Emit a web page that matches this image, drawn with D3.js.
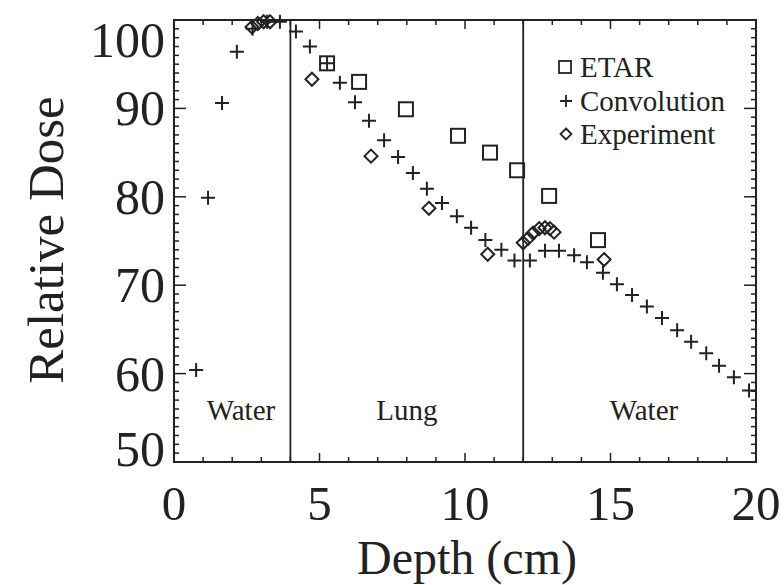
<!DOCTYPE html>
<html>
<head>
<meta charset="utf-8">
<script src="https://cdn.jsdelivr.net/npm/d3@7"></script>
<style>
  body { margin: 0; background: #fff; }
  text { font-family: "Liberation Serif", "Times New Roman", serif; fill: #222; }
</style>
</head>
<body>
<svg id="chart" width="784" height="585"></svg>
<script>
// 数据：从图上读出来的点（深度 cm，相对剂量）
var etarDepth = [5.26, 6.36, 7.97, 9.76, 10.86, 11.79, 12.89, 14.57];
var etarDose  = [95.1, 93.0, 89.9, 86.9, 85.0, 83.0, 80.1, 75.1];

var convDepth = [0.76, 1.17, 1.65, 2.16, 2.7, 3.2, 3.64, 4.19, 4.67, 5.26, 5.70, 6.22, 6.70, 7.22, 7.70, 8.21, 8.69, 9.21, 9.72, 10.21, 10.70, 11.25, 11.70, 12.23, 12.75, 13.23, 13.75, 14.19, 14.74, 15.22, 15.74, 16.25, 16.77, 17.29, 17.77, 18.29, 18.73, 19.24, 19.76];
var convDose  = [60.4, 79.9, 90.6, 96.4, 99.0, 99.8, 99.8, 98.7, 97.0, 95.1, 92.9, 90.7, 88.6, 86.4, 84.5, 82.7, 80.9, 79.3, 77.8, 76.5, 75.1, 74.0, 72.8, 72.8, 73.9, 73.9, 73.4, 72.6, 71.4, 70.1, 68.9, 67.6, 66.3, 64.9, 63.6, 62.3, 60.9, 59.6, 58.1];

var expDepth = [2.68, 2.88, 3.08, 3.30, 4.74, 6.77, 8.76, 10.78, 12.0, 12.17, 12.34, 12.55, 12.75, 12.92, 13.06, 14.78];
var expDose  = [99.2, 99.6, 99.8, 99.8, 93.3, 84.6, 78.7, 73.5, 74.8, 75.3, 75.9, 76.4, 76.5, 76.4, 76.0, 72.9];

var xTicks = [0, 5, 10, 15, 20];
var yTicks = [50, 60, 70, 80, 90, 100];
var interfaces = [4, 12];
var regionNames = ["Water", "Lung", "Water"];
var regionCenters = [2.3, 8.0, 16.15];
var legendNames = ["ETAR", "Convolution", "Experiment"];

var svg = d3.select("#chart");
var ink = "#222";

var x = d3.scaleLinear().domain([0, 20]).range([174, 756]);
var y = d3.scaleLinear().domain([50, 100]).range([462, 20]);

// 小刻度：y 每 1 个单位，x 每 1 cm
var yMinor = d3.range(50, 101, 1);
var xMinor = d3.range(0, 21, 1);

var ticks = svg.append("g").attr("stroke", ink).attr("stroke-width", 1.5);
ticks.selectAll(".yl").data(yMinor).enter().append("line")
  .attr("x1", x(0)).attr("x2", function (d) { return x(0) + (d % 10 == 0 ? 12 : 5); })
  .attr("y1", function (d) { return y(d); }).attr("y2", function (d) { return y(d); });
ticks.selectAll(".yr").data(yMinor).enter().append("line")
  .attr("x1", x(20)).attr("x2", function (d) { return x(20) - (d % 10 == 0 ? 12 : 5); })
  .attr("y1", function (d) { return y(d); }).attr("y2", function (d) { return y(d); });
ticks.selectAll(".xb").data(xMinor).enter().append("line")
  .attr("y1", y(50)).attr("y2", function (d) { return y(50) - (d % 5 == 0 ? 9 : 5); })
  .attr("x1", function (d) { return x(d); }).attr("x2", function (d) { return x(d); });
ticks.selectAll(".xt").data(xMinor).enter().append("line")
  .attr("y1", y(100)).attr("y2", function (d) { return y(100) + (d % 5 == 0 ? 9 : 5); })
  .attr("x1", function (d) { return x(d); }).attr("x2", function (d) { return x(d); });

// 外框
svg.append("rect")
  .attr("x", x(0)).attr("y", y(100))
  .attr("width", x(20) - x(0)).attr("height", y(50) - y(100))
  .attr("fill", "none").attr("stroke", ink).attr("stroke-width", 2);

// 水/肺 分界线
svg.selectAll(".iface").data(interfaces).enter().append("line")
  .attr("x1", function (d) { return x(d); }).attr("x2", function (d) { return x(d); })
  .attr("y1", y(100)).attr("y2", y(50))
  .attr("stroke", ink).attr("stroke-width", 1.8);

// 区域名称
svg.selectAll(".region").data(regionNames).enter().append("text")
  .attr("x", function (d, i) { return x(regionCenters[i]); })
  .attr("y", 420)
  .attr("text-anchor", "middle")
  .style("font-size", "29px")
  .text(function (d) { return d; });

// 刻度文字（100 往下挪一点，50 往上挪一点，跟原图一样）
svg.selectAll(".xlab").data(xTicks).enter().append("text")
  .attr("x", function (d) { return x(d); }).attr("y", 520)
  .attr("text-anchor", "middle").style("font-size", "49px")
  .text(function (d) { return d; });
svg.selectAll(".ylab").data(yTicks).enter().append("text")
  .attr("x", 165)
  .attr("y", function (d) {
    if (d == 100) return 57;
    if (d == 50) return 466;
    return y(d) + 17;
  })
  .attr("text-anchor", "end").style("font-size", "50px")
  .text(function (d) { return d; });

// 坐标轴标题
svg.append("text").attr("x", 467).attr("y", 574)
  .attr("text-anchor", "middle").style("font-size", "48px").text("Depth (cm)");
svg.append("text").attr("transform", "translate(63,240) rotate(-90)")
  .attr("text-anchor", "middle").style("font-size", "51px").text("Relative Dose");

// 符号
function square(g, cx, cy, r) {
  g.append("rect").attr("x", cx - r).attr("y", cy - r).attr("width", 2 * r).attr("height", 2 * r);
}
function cross(g, cx, cy, r) {
  g.append("path").attr("d", "M" + (cx - r) + "," + cy + "h" + 2 * r + "M" + cx + "," + (cy - r) + "v" + 2 * r);
}
function diamond(g, cx, cy, r) {
  g.append("path").attr("d", "M" + cx + "," + (cy - r) + "l" + r + "," + r + "l" + (-r) + "," + r + "l" + (-r) + "," + (-r) + "z");
}

var marks = svg.append("g").attr("fill", "none").attr("stroke", ink).attr("stroke-width", 2);
var gE = marks.append("g"), gC = marks.append("g"), gX = marks.append("g");
etarDepth.forEach(function (d, i) { square(gE, x(d), y(etarDose[i]), 7); });
convDepth.forEach(function (d, i) { cross(gC, x(d), y(convDose[i]), 7); });
expDepth.forEach(function (d, i) { diamond(gX, x(d), y(expDose[i]), 6.5); });

// 图例
var legendY = [67, 101, 134];
var lg = svg.append("g");
var lm = lg.append("g").attr("fill", "none").attr("stroke", ink).attr("stroke-width", 1.8);
square(lm, 565, legendY[0], 6);
cross(lm, 566, legendY[1], 6);
diamond(lm, 566, legendY[2], 5.5);
lg.selectAll("text").data(legendNames).enter().append("text")
  .attr("x", 580).attr("y", function (d, i) { return legendY[i] + 10; })
  .style("font-size", "29px")
  .text(function (d) { return d; });
</script>
</body>
</html>
